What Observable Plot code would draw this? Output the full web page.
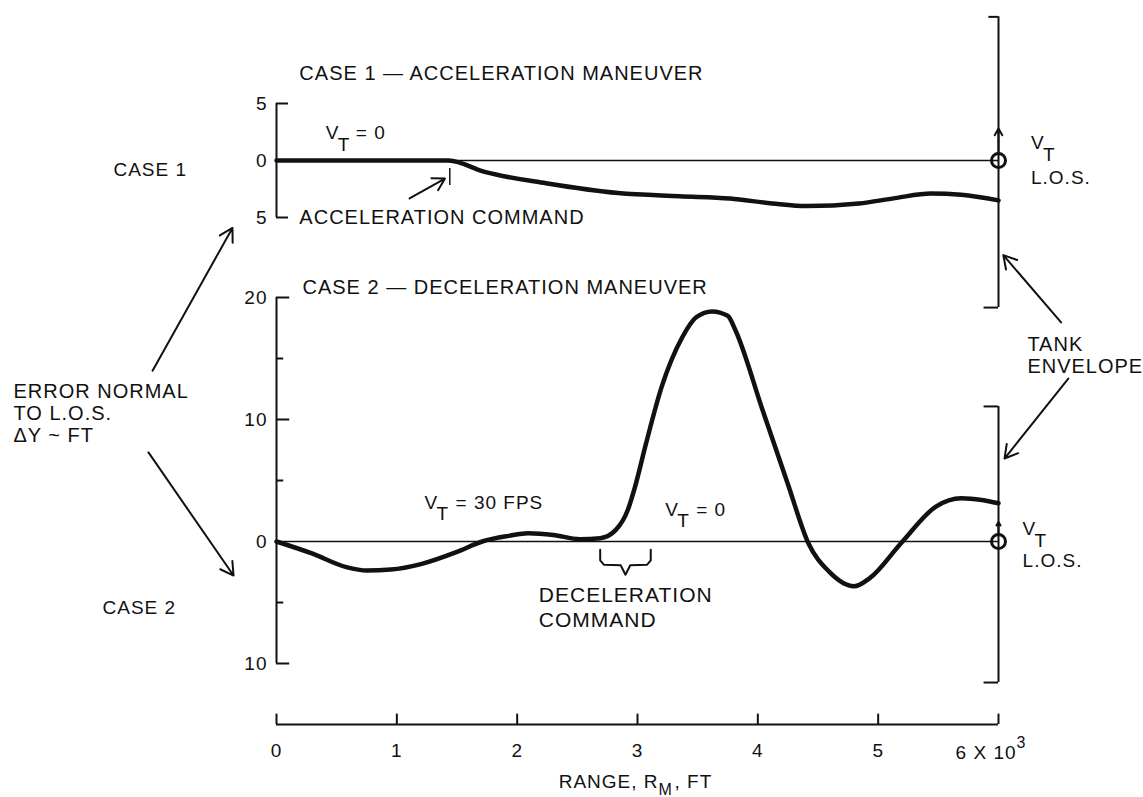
<!DOCTYPE html>
<html><head><meta charset="utf-8">
<script src="https://cdn.jsdelivr.net/npm/d3@7"></script>
<script src="https://cdn.jsdelivr.net/npm/@observablehq/plot@0.6"></script>
<style>
body{margin:0;background:#fff;}
#chart{position:relative;width:1143px;height:797px;overflow:hidden;background:#fff;}
#chart svg{position:absolute;left:0;top:0;}
</style></head><body><div id="chart"></div>
<script>
// ---- data ----
const rangeTicks = [0, 1, 2, 3, 4, 5, 6];
const case1Ticks = [5, 0, -5];
const case2Ticks = [20, 10, 0, -10];
const case2MinorTicks = [15, 5, -5];

// Case 1 – acceleration maneuver (range in 10^3 ft, error in ft)
const case1Range = [0, 0.5, 1.0, 1.43, 1.73, 2.24, 2.84, 3.35, 3.77, 4.12, 4.41, 4.84, 5.14, 5.44, 5.69, 6.0];
const case1Error = [0, 0, 0, 0, -1.0, -2.0, -2.86, -3.14, -3.34, -3.77, -4.0, -3.77, -3.3, -2.9, -3.0, -3.5];

// Case 2 – deceleration maneuver
const case2Range = [0, 0.3, 0.58, 0.75, 0.95, 1.2, 1.5, 1.71, 1.93, 2.09, 2.3, 2.52, 2.69, 2.82, 2.92, 2.98, 3.07, 3.2, 3.37, 3.49, 3.62, 3.75, 3.81, 4.04, 4.25, 4.42, 4.59, 4.8, 4.93, 5.19, 5.48, 5.69, 5.86, 6.0];
const case2Error = [0, -1.0, -2.1, -2.38, -2.3, -1.85, -0.85, 0, 0.46, 0.68, 0.54, 0.19, 0.27, 0.95, 2.6, 4.5, 8.0, 12.65, 16.7, 18.4, 18.86, 18.5, 17.4, 10.75, 4.7, -0.14, -2.45, -3.67, -3.0, -0.14, 2.86, 3.54, 3.4, 3.13];

const case1 = case1Range.map((r, i) => ({range: r, error: case1Error[i]}));
const case2 = case2Range.map((r, i) => ({range: r, error: case2Error[i]}));

// ---- helpers ----
const FONT = "'Liberation Sans', Arial, Helvetica, sans-serif";
const INK = "#111";
const baseStyle = {fontFamily: FONT, fontSize: "19px", letterSpacing: "1px", background: "transparent", overflow: "visible", color: INK};
const X = {domain: [0, 6], range: [276, 998]};

function lbl(text, x, y, o = {}) {
  return Plot.text([{x, y, text}], {
    x: "x", y: "y", text: "text",
    textAnchor: o.anchor || "start", lineAnchor: o.line || "middle",
    dx: o.dx || 0, dy: o.dy || 0, fontSize: o.size || 19,
    lineHeight: o.lh || 1, fill: INK
  });
}
function arrow(x1, y1, x2, y2, o = {}) {
  return Plot.arrow([{x1, y1, x2, y2}], {x1: "x1", y1: "y1", x2: "x2", y2: "y2", stroke: INK, strokeWidth: o.sw || 2, headLength: o.hl || 11});
}
function pts(xs, ys) { return xs.map((x, i) => ({x, y: ys[i]})); }

// ---- panel 1 ----
const p1 = Plot.plot({
  width: 1143, height: 797, marginLeft: 276, marginRight: 145, marginTop: 0, marginBottom: 0,
  x: {...X, axis: null},
  y: {domain: [-5, 5], range: [217, 103]},
  style: baseStyle,
  marks: [
    Plot.axisY({ticks: case1Ticks, tickSize: 0, tickPadding: 9, tickFormat: d => Math.abs(d), fontSize: 19, label: null}),
    Plot.ruleX([0], {y1: -5, y2: 5, stroke: INK, strokeWidth: 2}),
    Plot.ruleY([5, -5], {x1: 0, x2: 0.1, stroke: INK, strokeWidth: 2}),
    Plot.ruleY([0], {x1: 0, x2: 6, stroke: INK, strokeWidth: 1.5}),
    Plot.line(case1, {x: "range", y: "error", stroke: INK, strokeWidth: 4.5, curve: "monotone-x"}),
    Plot.ruleX([1.44], {y1: -0.7, y2: -2.2, stroke: INK, strokeWidth: 1.5}),
    arrow(1.106, -3.33, 1.40, -1.58),
    lbl("CASE 1 — ACCELERATION MANEUVER", 0.19, 7.63, {size: 20}),
    lbl("ACCELERATION COMMAND", 0.19, -5, {size: 20}),
    lbl("V", 0.41, 2.41), lbl("T", 0.41, 2.41, {dx: 12, dy: 12}), lbl("= 0", 0.41, 2.41, {dx: 30}),
    // tank envelope, line of sight
    Plot.ruleX([6], {y1: -12.9, y2: 12.6, stroke: INK, strokeWidth: 2}),
    Plot.ruleY([12.6], {x1: 5.92, x2: 6, stroke: INK, strokeWidth: 2}),
    Plot.ruleY([-12.9], {x1: 5.88, x2: 6, stroke: INK, strokeWidth: 2}),
    arrow(6, 0.8, 6, 2.8),
    Plot.dot([{x: 6, y: 0}], {x: "x", y: "y", r: 7, stroke: INK, strokeWidth: 3, fill: "none"}),
    lbl("V", 6.27, 1.53), lbl("T", 6.27, 1.53, {dx: 12, dy: 12}),
    lbl("L.O.S.", 6.27, -1.53),
    arrow(6.52, -14.2, 6.04, -8.3),
    lbl("CASE 1", -1.355, -0.8)
  ]
});

// ---- panel 2 + range axis ----
const brace = pts([2.69, 2.69, 2.72, 2.86, 2.9, 2.94, 3.08, 3.11, 3.11],
                  [-0.68, -1.55, -1.9, -1.95, -2.72, -1.95, -1.9, -1.55, -0.68]);

const p2 = Plot.plot({
  width: 1143, height: 797, marginLeft: 276, marginRight: 145, marginTop: 0, marginBottom: 73,
  x: X,
  y: {domain: [-10, 20], range: [663, 297]},
  style: baseStyle,
  marks: [
    Plot.axisY({ticks: case2Ticks, tickSize: 0, tickPadding: 9, tickFormat: d => Math.abs(d), fontSize: 19, label: null}),
    Plot.ruleX([0], {y1: -10, y2: 20, stroke: INK, strokeWidth: 2}),
    Plot.ruleY([20, 10, -10], {x1: 0, x2: 0.11, stroke: INK, strokeWidth: 2}),
    Plot.ruleY(case2MinorTicks, {x1: 0, x2: 0.06, stroke: INK, strokeWidth: 2}),
    Plot.ruleY([0], {x1: 0, x2: 6, stroke: INK, strokeWidth: 1.5}),
    Plot.line(case2, {x: "range", y: "error", stroke: INK, strokeWidth: 4.5, curve: "monotone-x"}),
    lbl("CASE 2 — DECELERATION MANEUVER", 0.216, 20.8, {size: 20}),
    lbl("V", 1.23, 3.13), lbl("T", 1.23, 3.13, {dx: 12, dy: 11}), lbl("= 30 FPS", 1.23, 3.13, {dx: 31}),
    lbl("V", 3.23, 2.59), lbl("T", 3.23, 2.59, {dx: 12, dy: 11}), lbl("= 0", 3.23, 2.59, {dx: 31}),
    Plot.line(brace, {x: "x", y: "y", stroke: INK, strokeWidth: 2, curve: "linear"}),
    lbl("DECELERATION\nCOMMAND", 2.18, -5.3, {size: 21, lh: 1.2}),
    // tank envelope
    Plot.ruleX([6], {y1: -11.56, y2: 11.07, stroke: INK, strokeWidth: 2}),
    Plot.ruleY([11.07, -11.56], {x1: 5.88, x2: 6, stroke: INK, strokeWidth: 2}),
    arrow(6, 0.6, 6, 1.6, {hl: 9}),
    Plot.dot([{x: 6, y: 0}], {x: "x", y: "y", r: 7, stroke: INK, strokeWidth: 3, fill: "none"}),
    lbl("V", 6.2, 1.07), lbl("T", 6.2, 1.07, {dx: 12, dy: 12}),
    lbl("L.O.S.", 6.2, -1.56),
    arrow(6.58, 13.36, 6.05, 6.8),
    lbl("TANK\nENVELOPE", 6.24, 15.3, {size: 20, lh: 1.1}),
    // left annotation
    lbl("ERROR NORMAL\nTO L.O.S.\nΔY ~ FT", -2.186, 10.5, {size: 20, lh: 1.1}),
    arrow(-1.03, 14.0, -0.366, 25.7),
    arrow(-1.064, 7.3, -0.357, -2.79),
    lbl("CASE 2", -1.446, -5.41),
    // range axis
    Plot.ruleY([-15], {x1: 0, x2: 6, stroke: INK, strokeWidth: 2}),
    Plot.ruleX(rangeTicks, {y1: -15, y2: -14.15, stroke: INK, strokeWidth: 2}),
    Plot.axisX({ticks: rangeTicks.slice(0, 6), tickSize: 0, tickPadding: 19, tickFormat: d => String(d), fontSize: 19, label: null}),
    lbl("6 X 10", 6.15, -17.3, {anchor: "end"}),
    lbl("3", 6.15, -17.3, {dy: -10, size: 16}),
    lbl("RANGE, R", 3.175, -19.7, {anchor: "end"}),
    lbl("M", 3.175, -19.7, {dy: 8, size: 16}),
    lbl(", FT", 3.175, -19.7, {dx: 16})
  ]
});

const chart = document.getElementById("chart");
chart.appendChild(p1);
chart.appendChild(p2);
</script>
</body></html>
